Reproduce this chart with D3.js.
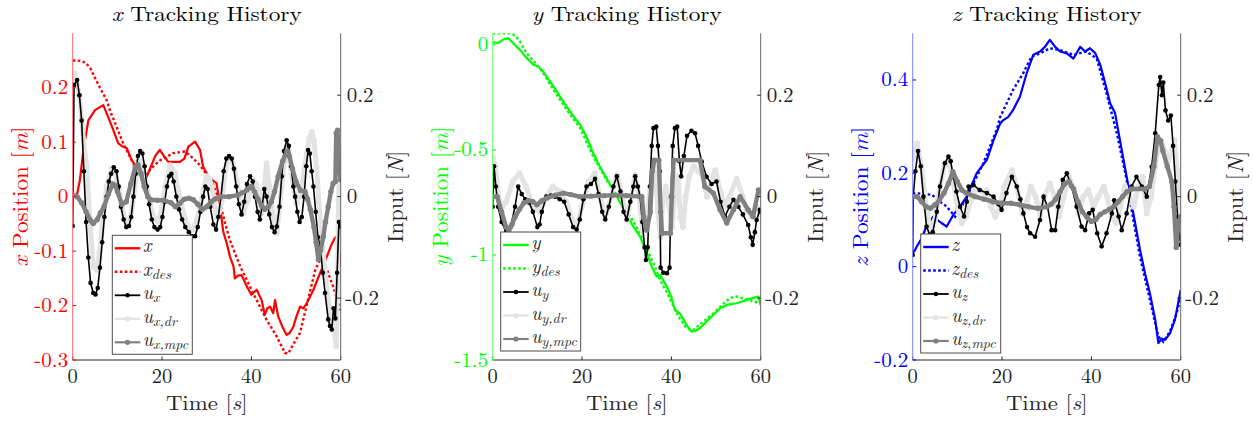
<!DOCTYPE html>
<html><head><meta charset="utf-8">
<script src="https://cdn.jsdelivr.net/npm/d3@7"></script>
<style>body{margin:0;background:#fff}svg{display:block}</style>
</head><body><svg id="c" width="1253" height="423"></svg>
<script>
// ---------- DATA ----------
const timeTicks = [0, 20, 40, 60];
const inputTicks = [-0.2, 0, 0.2];
const xPosTicks = [-0.3, -0.2, -0.1, 0, 0.1, 0.2];
const yPosTicks = [-1.5, -1, -0.5, 0];
const zPosTicks = [-0.2, 0, 0.2, 0.4];

// panel x
const x_pos = [[0,0],[1,0.005],[1.6,0.03],[2.4,0.086],[3.5,0.14],[5,0.159],[6.85,0.168],[8,0.145],[9.1,0.122],[10.2,0.098],[11.2,0.092],[12.1,0.089],[13.2,0.067],[14.2,0.055],[15.1,0.046],[16.6,0.037],[17.5,0.055],[18.5,0.075],[19.5,0.086],[20.4,0.075],[21.4,0.064],[22.7,0.064],[24,0.064],[25,0.07],[25.9,0.092],[27.4,0.101],[28.5,0.086],[29.2,0.055],[30.4,0.037],[31.3,0.03],[32.2,0.025],[33,-0.018],[33.7,-0.064],[34.5,-0.086],[35.2,-0.11],[36,-0.128],[36.3,-0.15],[37,-0.145],[37.8,-0.144],[39,-0.165],[40,-0.18],[41.2,-0.171],[42.3,-0.19],[43,-0.217],[43.6,-0.205],[44.2,-0.202],[44.9,-0.214],[45.3,-0.19],[46,-0.22],[47,-0.24],[47.9,-0.254],[48.6,-0.25],[49.4,-0.239],[50.1,-0.22],[50.9,-0.202],[51.6,-0.205],[52.4,-0.196],[53.9,-0.171],[55.4,-0.14],[56.9,-0.11],[58.1,-0.085],[58.7,-0.076],[59.1,-0.073],[59.5,-0.085],[60,-0.128]];
const x_des = [[0,0.25],[1,0.25],[2,0.249],[3,0.245],[4,0.235],[5,0.218],[6.1,0.2],[7.6,0.177],[8.5,0.155],[9.5,0.135],[11.3,0.098],[13.2,0.067],[15.1,0.037],[16.6,0.043],[18,0.055],[19.6,0.067],[21,0.073],[22.5,0.08],[25.1,0.083],[26.6,0.073],[28,0.062],[29.3,0.049],[31.5,0.021],[33,-0.012],[34,-0.045],[35.2,-0.08],[37.5,-0.128],[40.4,-0.177],[43.4,-0.226],[45.7,-0.257],[47.5,-0.287],[48.3,-0.288],[48.7,-0.281],[50.9,-0.25],[53.1,-0.175],[54.3,-0.135],[55.6,-0.112],[56.5,-0.125],[58.3,-0.165],[60,-0.21]];
const u_x = [[0,-0.058],[0.3,0.22],[1,0.23],[1.5,0.2],[2,0.15],[2.5,0.05],[3,-0.05],[3.5,-0.12],[4,-0.17],[4.6,-0.19],[5.1,-0.193],[5.6,-0.18],[6.1,-0.14],[6.6,-0.09],[7.1,-0.04],[7.6,0.0],[8.1,0.03],[8.6,0.045],[9.2,0.058],[9.8,0.05],[10.3,0.02],[10.8,-0.02],[11.4,-0.045],[12,-0.06],[12.6,-0.058],[13.1,-0.04],[13.6,0.0],[14.1,0.045],[14.6,0.08],[15.1,0.09],[15.6,0.085],[16.1,0.06],[16.6,0.02],[17.1,-0.015],[17.7,-0.045],[18.3,-0.06],[19,-0.065],[19.6,-0.06],[20.1,-0.04],[20.6,-0.01],[21.1,0.02],[21.6,0.04],[22.1,0.045],[22.6,0.03],[23.2,0.0],[23.8,-0.025],[24.5,-0.045],[25.2,-0.06],[26,-0.07],[26.8,-0.078],[27.4,-0.078],[28,-0.06],[28.6,-0.03],[29.2,0.0],[29.7,0.02],[30.2,0.015],[30.8,-0.02],[31.5,-0.055],[32.1,-0.065],[32.6,-0.04],[33.2,0.0],[33.8,0.05],[34.4,0.075],[35,0.08],[35.6,0.075],[36.1,0.055],[36.6,0.02],[37.2,-0.015],[37.8,-0.035],[38.4,-0.01],[39,0.025],[39.7,0.04],[40.3,0.03],[40.8,0.0],[41.4,-0.03],[41.9,-0.045],[42.4,-0.02],[42.9,0.015],[43.4,0.0],[44,-0.035],[44.6,-0.06],[45.2,-0.07],[45.7,-0.059],[46.3,-0.02],[46.8,0.04],[47.3,0.09],[47.9,0.111],[48.4,0.1],[48.9,0.06],[49.4,0.02],[49.8,0.0],[50.3,-0.03],[50.8,-0.05],[51.3,-0.04],[51.8,0.0],[52.3,0.06],[52.7,0.092],[53.1,0.085],[53.5,0.05],[53.9,0.02],[54.4,-0.03],[54.9,-0.08],[55.4,-0.098],[56,-0.15],[56.5,-0.19],[57.2,-0.242],[57.6,-0.255],[58,-0.262],[58.4,-0.22],[58.8,-0.24],[59.2,-0.15],[59.6,-0.05],[60,-0.059]];
const u_x_dr = [[0,0.23],[0.4,0.243],[0.8,0.23],[1.5,0.2],[2.2,0.13],[3.1,0.06],[3.8,-0.04],[4.6,-0.138],[5.4,-0.144],[6,-0.11],[6.5,-0.07],[7.6,0.02],[8.7,0.056],[9.6,0.046],[10.3,0.015],[11,-0.02],[12.1,-0.059],[13.2,-0.03],[14.3,0.046],[15,0.07],[15.8,0.05],[16.6,0.02],[17.4,-0.015],[18.1,-0.04],[19.2,-0.05],[20,-0.02],[20.7,0.02],[21.8,0.062],[22.9,0.046],[23.7,0.01],[24.4,-0.02],[25.2,-0.045],[25.9,-0.059],[27,-0.065],[27.8,-0.045],[28.5,-0.02],[29.3,0.015],[30,0.04],[30.6,0.035],[31.1,0.02],[31.7,-0.01],[32.2,-0.04],[32.8,-0.03],[33.4,-0.006],[34,0.04],[34.5,0.066],[35.6,0.072],[36.2,0.055],[36.7,0.033],[37.5,0.0],[38.2,-0.033],[39.3,-0.006],[40.4,0.033],[41,0.025],[41.6,0.013],[42.3,-0.033],[42.9,0.02],[43.4,0.066],[44,0.02],[44.5,-0.02],[45.1,-0.05],[45.7,-0.072],[46.3,-0.02],[46.8,0.02],[47.4,0.07],[47.9,0.098],[48.5,0.075],[49,0.046],[49.6,0.01],[50.1,-0.013],[50.7,0.0],[51.3,0.02],[51.9,0.055],[52.4,0.085],[53,0.115],[53.5,0.128],[54,0.11],[54.6,0.059],[55.1,-0.01],[55.7,-0.072],[56.4,-0.14],[57.2,-0.203],[57.8,-0.235],[58.4,-0.256],[59,-0.295],[59.3,-0.15],[59.5,-0.006],[60,0.085]];
const u_x_mpc = [[0,0.003],[1,0.0],[2,-0.012],[3,-0.03],[4,-0.047],[4.6,-0.053],[5.5,-0.045],[6.2,-0.032],[7,-0.02],[8,0.005],[9,0.025],[9.5,0.022],[10,0.01],[11,-0.015],[12,-0.01],[13,0.025],[14,0.058],[14.6,0.063],[15.3,0.045],[16,0.02],[16.8,0.0],[17.5,-0.006],[19,-0.007],[20.5,-0.007],[22,-0.012],[23,-0.02],[24,-0.013],[25,-0.005],[26,-0.003],[27,-0.006],[28,-0.015],[29,-0.025],[30,-0.02],[31,-0.01],[32,-0.004],[33,0.0],[35,0.0],[37,0.003],[38,0.008],[39,0.013],[40,0.02],[40.7,0.01],[41.5,-0.005],[42.3,-0.018],[43,-0.025],[43.8,-0.02],[44.5,-0.01],[45.2,0.01],[46,0.04],[47,0.07],[48,0.09],[48.5,0.08],[49.2,0.055],[50,0.03],[51,0.012],[52,0.01],[52.6,-0.005],[53.2,-0.025],[54,-0.06],[54.5,-0.09],[55,-0.124],[55.5,-0.105],[56.1,-0.079],[56.6,-0.05],[57.2,-0.02],[57.8,0.01],[58.3,0.026],[58.8,0.03],[59,0.125],[59.3,0.131],[59.6,0.06],[60,0.033]];

// panel y
const y_pos = [[0,0.011],[1.5,0.011],[2.2,0.024],[3.5,0.032],[4.6,0.008],[6.1,-0.024],[7.6,-0.063],[9.1,-0.095],[10.2,-0.103],[11.3,-0.127],[13.6,-0.198],[15.8,-0.27],[18.1,-0.341],[19.6,-0.381],[21,-0.437],[22.5,-0.516],[24,-0.579],[25.9,-0.651],[27.8,-0.722],[30,-0.81],[31.5,-0.865],[33,-0.913],[34.5,-0.992],[35.6,-1.056],[36.7,-1.103],[37.5,-1.095],[39,-1.151],[40,-1.2],[40.8,-1.262],[41.9,-1.278],[43.4,-1.333],[44.5,-1.365],[45.5,-1.36],[46.4,-1.349],[47.9,-1.317],[49.4,-1.286],[50.9,-1.254],[52.4,-1.238],[54.6,-1.23],[56.9,-1.214],[58.7,-1.202],[59.5,-1.198],[60,-1.24]];
const y_des = [[0,0.055],[2,0.055],[4,0.055],[5,0.045],[6.1,0.016],[7.6,-0.04],[9.9,-0.095],[11.5,-0.14],[13.6,-0.214],[16.6,-0.31],[19.6,-0.397],[22.5,-0.532],[25.5,-0.643],[28.5,-0.738],[32.2,-0.865],[34,-0.95],[36,-1.04],[37.5,-1.119],[39.5,-1.2],[41.5,-1.29],[43.4,-1.35],[44.9,-1.357],[47,-1.32],[49.4,-1.278],[51.5,-1.235],[53.1,-1.205],[54.5,-1.198],[56.1,-1.206],[58.4,-1.222],[60,-1.23]];
const u_y = [[0,-0.02],[0.3,0.06],[0.7,0.02],[1.2,-0.02],[2,-0.05],[3,-0.07],[4,-0.06],[5,-0.02],[5.7,0.02],[6.5,0.005],[7.3,-0.005],[8.2,-0.012],[9,-0.03],[10,-0.06],[10.5,-0.055],[11,-0.03],[12,0.0],[13,0.002],[14,0.0],[15,-0.005],[16,-0.01],[17,-0.035],[18,-0.06],[18.8,-0.065],[19.5,-0.045],[20.3,-0.005],[21,0.02],[22,0.025],[22.9,0.035],[23.7,0.005],[24.5,-0.03],[25.2,-0.045],[26,-0.02],[27,0.02],[27.8,0.04],[28.6,0.01],[29.3,-0.03],[30,-0.045],[30.8,-0.01],[31.5,0.02],[31.9,0.04],[32.5,0.02],[33,0.0],[33.5,-0.05],[34,-0.1],[34.3,-0.125],[34.7,-0.1],[35.2,0.02],[35.6,0.1],[36,0.135],[36.6,0.138],[37,0.1],[37.4,0.05],[37.6,-0.14],[38.2,-0.15],[39,-0.151],[39.6,-0.14],[39.9,0.0],[40.3,0.1],[40.8,0.135],[41.3,0.138],[41.8,0.07],[42.2,0.04],[42.8,0.08],[43.5,0.12],[44.5,0.13],[45.3,0.125],[46,0.1],[46.8,0.069],[47.9,0.039],[49,0.025],[50.1,0.03],[51,-0.01],[52,-0.039],[53,-0.02],[53.9,-0.006],[55,-0.02],[56,-0.035],[57.2,-0.056],[57.8,-0.08],[58.2,-0.095],[58.7,-0.07],[59.1,-0.046],[59.8,-0.026],[60,-0.03]];
const u_y_dr = [[0,0.079],[0.6,0.06],[1.3,0.0],[2.2,-0.02],[3,-0.01],[4.5,0.03],[6,0.046],[7.5,0.02],[9,-0.02],[10.5,-0.03],[12,0.0],[13.5,0.02],[15,0.01],[16.5,-0.01],[18,-0.05],[18.8,-0.06],[20,-0.02],[21.5,0.03],[22.9,0.046],[24,0.0],[25.2,-0.04],[26.5,0.0],[27.8,0.043],[29,0.0],[30,-0.046],[31,0.0],[31.9,0.043],[32.8,0.0],[33.5,-0.066],[34.5,-0.04],[35.3,0.02],[36,0.06],[36.5,0.03],[37,-0.03],[37.5,-0.08],[38,-0.02],[38.8,0.02],[39.5,-0.02],[40.2,-0.06],[40.8,0.02],[41.5,0.04],[42,-0.04],[42.6,-0.06],[43.2,0.0],[44,0.04],[45,0.06],[46,0.05],[47,0.04],[48,0.0],[49,0.03],[49.8,0.052],[51,0.01],[52,-0.02],[53,0.0],[54.6,0.035],[56,0.0],[57,-0.03],[58,-0.04],[59,-0.02],[60,-0.035]];
const u_y_mpc = [[0,0.0],[1,0.0],[2,-0.03],[3,-0.06],[3.6,-0.066],[4.3,-0.055],[5,-0.04],[6,-0.025],[7,-0.012],[8,-0.008],[9,-0.01],[9.9,-0.016],[11,-0.008],[12.1,-0.003],[14,0.003],[15.8,0.007],[17.5,0.004],[19.5,0.0],[22,0.001],[25,0.002],[27,0.003],[30,0.002],[33.4,0.0],[33.8,-0.04],[34.5,-0.066],[35.3,-0.03],[35.7,0.05],[36.2,0.072],[37.2,0.072],[37.6,-0.03],[37.9,-0.072],[39.8,-0.072],[40.1,0.0],[40.5,0.072],[46.4,0.072],[47.5,0.02],[49.4,0.007],[50.9,-0.026],[52.4,-0.052],[53.9,-0.026],[55.4,0.0],[57.2,-0.026],[58.3,-0.039],[59.5,0.013],[60,0.01]];

// panel z
const z_pos = [[0,0.029],[0.5,0.035],[0.9,0.043],[2,0.06],[3,0.085],[4.6,0.107],[6.5,0.093],[7.6,0.086],[9.1,0.111],[10.6,0.129],[12.1,0.15],[14.3,0.2],[16.6,0.229],[18.1,0.271],[19.6,0.307],[20.3,0.314],[21.4,0.321],[22.5,0.336],[24,0.364],[25.5,0.414],[27,0.454],[28.5,0.461],[29.6,0.471],[30.7,0.486],[31.9,0.471],[33,0.461],[34.5,0.457],[36,0.446],[37.5,0.471],[38.6,0.461],[39.7,0.468],[40.9,0.457],[42,0.432],[43.1,0.393],[44.2,0.35],[45.3,0.329],[46.4,0.271],[47.9,0.193],[49.4,0.114],[50.9,0.036],[52,-0.014],[53.1,-0.057],[54.3,-0.114],[55,-0.164],[55.7,-0.154],[56.5,-0.157],[57.6,-0.143],[58.7,-0.114],[60,-0.05]];
const z_des = [[0,0.157],[1.2,0.157],[4.3,0.154],[6,0.14],[7.6,0.129],[9.5,0.107],[10.5,0.12],[12.1,0.15],[15.8,0.221],[18.8,0.293],[19.6,0.321],[22.5,0.379],[24.7,0.414],[26.6,0.45],[28.5,0.457],[30.7,0.468],[33,0.464],[36,0.454],[38.9,0.461],[41.2,0.446],[43.4,0.371],[45.7,0.286],[47.9,0.186],[49.4,0.1],[50.9,0.021],[53.1,-0.071],[55,-0.15],[56.1,-0.161],[57.6,-0.139],[59.1,-0.1],[60,-0.064]];
const u_z = [[0,-0.115],[0.1,0.0],[0.6,0.05],[1.2,0.09],[1.8,0.06],[2.4,0.0],[3.1,-0.059],[3.8,-0.075],[4.5,-0.07],[5.4,-0.03],[6.1,0.02],[7.2,0.066],[8,0.079],[8.5,0.07],[9.1,0.039],[9.8,0.01],[10.6,-0.02],[11.5,-0.039],[12.1,-0.01],[12.5,0.02],[13.6,0.023],[15,0.013],[16.6,0.007],[18.1,0.0],[19.2,-0.015],[19.9,-0.026],[21,0.007],[22.2,0.039],[23.3,0.02],[24.1,-0.005],[24.8,-0.033],[25.6,-0.06],[26.3,-0.072],[27.4,-0.079],[28.5,-0.046],[29.3,0.0],[30.2,-0.02],[31.1,-0.066],[31.9,-0.066],[32.6,-0.02],[33.6,0.033],[34.5,0.046],[35.6,0.02],[36.7,-0.02],[37.8,-0.059],[38.6,-0.066],[39.5,-0.033],[40.3,-0.026],[41.3,-0.072],[42.3,-0.098],[43.4,-0.072],[44.6,-0.033],[45.1,-0.007],[46.1,-0.039],[46.8,-0.066],[47.9,-0.033],[49,0.02],[50.1,0.039],[51.3,0.02],[52.4,0.0],[53.5,0.059],[54.3,0.125],[55.1,0.22],[55.4,0.236],[55.8,0.2],[56.1,0.225],[56.6,0.17],[57.2,0.15],[57.8,0.16],[58.3,0.1],[58.8,0.03],[59.3,-0.04],[60,-0.095]];
const u_z_dr = [[0,0.075],[1,0.105],[2,0.059],[3,-0.02],[4,-0.066],[5,-0.046],[6,0.013],[7,0.059],[8,0.072],[9,0.033],[10,-0.02],[11,-0.052],[12,-0.039],[13,-0.007],[14,0.013],[15,0.013],[16,0.007],[16.6,0.013],[17.5,-0.02],[18.5,-0.04],[19.5,-0.02],[20.5,0.02],[22.2,0.052],[23.3,0.02],[24.5,-0.033],[25.5,-0.01],[26.5,0.02],[27.5,0.0],[28.5,-0.033],[29.5,0.0],[30.7,0.026],[31.8,0.0],[32.8,-0.039],[33.8,0.0],[35,0.039],[36.1,0.015],[37.2,-0.033],[38.2,0.0],[39.3,0.013],[40.5,-0.02],[41.5,0.0],[42.8,0.02],[43.5,0.0],[44.5,-0.04],[45.5,-0.052],[46.5,-0.02],[47.5,0.02],[48.5,0.0],[49.5,-0.02],[50.5,0.02],[51.5,0.039],[52.4,-0.033],[53.4,0.0],[54.3,0.06],[55,0.1],[55.6,0.111],[56.4,0.09],[57.2,0.07],[58,0.09],[58.6,0.111],[59.2,0.05],[60,-0.033]];
const u_z_mpc = [[0,0.0],[1,0.0],[2,-0.01],[3,-0.02],[4,-0.023],[5,-0.016],[6,-0.007],[7,0.007],[8,0.026],[9,0.049],[10,0.03],[11,0.013],[12,0.007],[14,0.0],[16,-0.005],[18,-0.01],[20,-0.013],[22,-0.013],[24,-0.016],[26,-0.02],[28,-0.023],[30,-0.02],[31,-0.015],[32,-0.005],[33,0.01],[34,0.025],[35,0.03],[36,0.015],[37,-0.01],[38,-0.03],[39,-0.04],[40,-0.049],[41,-0.045],[42,-0.035],[43,-0.03],[44,-0.025],[45,-0.02],[46,-0.01],[47,0.0],[48,0.01],[49,0.015],[52,0.015],[53,0.02],[54,0.06],[54.8,0.118],[55.5,0.11],[56,0.09],[57,0.06],[58,0.03],[58.5,-0.02],[59,-0.1],[59.5,-0.05],[60,-0.039]];

// ---------- FONT PICK ----------
function pickFont(cands) {
  const c = document.createElement("canvas").getContext("2d");
  const s = "Tracking History 0.123 Position";
  const base = {};
  ["monospace", "sans-serif"].forEach(b => { c.font = "40px " + b; base[b] = c.measureText(s).width; });
  for (const f of cands) {
    for (const b of ["monospace", "sans-serif"]) {
      c.font = `40px "${f}", ${b}`;
      if (Math.abs(c.measureText(s).width - base[b]) > 0.5) return `"${f}"`;
    }
  }
  return "serif";
}
const FONT = pickFont(["Latin Modern Roman","CMU Serif","Liberation Serif","DejaVu Serif","Tinos","Noto Serif","Times New Roman","Nimbus Roman","Nimbus Roman No9 L","FreeSerif","STIXGeneral","Georgia","C059","P052"]);

// ---------- DRAW ----------
const svg = d3.select("#c");
const W = 268, PL = 72.7, TOP = 33.3, BOT = 360;
const panels = [
  {ox:0,   name:"x", color:"#ff0000", axisCol:"#ff6666", dom:[-0.3,0.3],   ticks:xPosTicks, pos:x_pos, des:x_des, u:u_x, dr:u_x_dr, mpc:u_x_mpc, legX:39.6, legY:235.3},
  {ox:420, name:"y", color:"#00ff00", axisCol:"#66ff66", dom:[-1.5,0.055], ticks:yPosTicks, pos:y_pos, des:y_des, u:u_y, dr:u_y_dr, mpc:u_y_mpc, legX:8, legY:232},
  {ox:840, name:"z", color:"#0000ff", axisCol:"#8080ff", dom:[-0.2,0.5],   ticks:zPosTicks, pos:z_pos, des:z_des, u:u_z, dr:u_z_dr, mpc:u_z_mpc, legX:8, legY:234}
];
const DARK = "#262626";

function txt(sel) { return sel.append("text").attr("font-family", FONT); }
function fit(sel, len) { return sel.attr("textLength", len).attr("lengthAdjust", "spacingAndGlyphs"); }

panels.forEach((p, i) => {
  const x0 = p.ox + PL, x1 = x0 + W;
  const xs = d3.scaleLinear().domain([0,60]).range([x0, x1]);
  const yl = d3.scaleLinear().domain(p.dom).range([BOT, TOP]);
  const yr = d3.scaleLinear().domain([-0.322,0.322]).range([BOT, TOP]);
  const g = svg.append("g");
  const clipId = "clip"+i;
  svg.append("clipPath").attr("id", clipId).append("rect").attr("x", x0).attr("y", TOP).attr("width", W).attr("height", BOT-TOP);
  const plot = g.append("g").attr("clip-path", `url(#${clipId})`);

  const lineL = d3.line().x(d=>xs(d[0])).y(d=>yl(d[1]));
  const lineR = d3.line().x(d=>xs(d[0])).y(d=>yr(d[1]));

  plot.append("path").attr("d", lineL(p.des)).attr("fill","none").attr("stroke",p.color).attr("stroke-width",2.4).attr("stroke-dasharray","2.6,2.4");
  plot.append("path").attr("d", lineL(p.pos)).attr("fill","none").attr("stroke",p.color).attr("stroke-width",2.2).attr("stroke-linejoin","round");

  function series(data, col, lw, r) {
    plot.append("path").attr("d", lineR(data)).attr("fill","none").attr("stroke",col).attr("stroke-width",lw).attr("stroke-linejoin","round").attr("stroke-linecap","round");
    plot.append("g").selectAll("circle").data(data).join("circle")
      .attr("cx", d=>xs(d[0])).attr("cy", d=>yr(d[1])).attr("r", r).attr("fill", col);
  }
  series(p.dr, "#e3e3e3", 5, 3);
  series(p.u, "#000000", 1.6, 2.3);
  series(p.mpc, "#808080", 4.4, 2.7);

  // axes
  const TL = 3.5;
  g.append("line").attr("x1",x0).attr("x2",x1).attr("y1",BOT).attr("y2",BOT).attr("stroke",DARK).attr("stroke-width",1);
  timeTicks.forEach(t => {
    g.append("line").attr("x1",xs(t)).attr("x2",xs(t)).attr("y1",BOT).attr("y2",BOT-TL).attr("stroke",DARK);
    txt(g).attr("x",xs(t)).attr("y",382.5).attr("text-anchor","middle").attr("font-size",20.5).attr("fill",DARK).text(t);
  });
  g.append("line").attr("x1",x0).attr("x2",x0).attr("y1",TOP).attr("y2",BOT).attr("stroke",p.axisCol).attr("stroke-width",1);
  p.ticks.forEach(v => {
    g.append("line").attr("x1",x0).attr("x2",x0+TL).attr("y1",yl(v)).attr("y2",yl(v)).attr("stroke",p.color);
    txt(g).attr("x",x0-4.5).attr("y",yl(v)+6.5).attr("text-anchor","end").attr("font-size",21).attr("fill",p.color).text(v);
  });
  g.append("line").attr("x1",x1).attr("x2",x1).attr("y1",TOP).attr("y2",BOT).attr("stroke","#666").attr("stroke-width",1);
  inputTicks.forEach(v => {
    g.append("line").attr("x1",x1).attr("x2",x1-TL).attr("y1",yr(v)).attr("y2",yr(v)).attr("stroke",DARK);
    txt(g).attr("x",x1+(v<0?4.5:6)).attr("y",yr(v)+6.5).attr("text-anchor","start").attr("font-size",21).attr("fill",DARK).text(v);
  });

  // labels
  const cx = (x0+x1)/2;
  const tt = fit(txt(g).attr("x",cx-95).attr("y",21).attr("font-size",20.5).attr("fill","#000"), 190);
  tt.append("tspan").attr("font-style","italic").text(p.name);
  tt.append("tspan").text(" Tracking History");
  const xl = fit(txt(g).attr("x",cx-40.8).attr("y",409.5).attr("font-size",21).attr("fill",DARK), 81.6);
  xl.append("tspan").text("Time [");
  xl.append("tspan").attr("font-style","italic").text("s");
  xl.append("tspan").text("]");
  const yL = fit(txt(g).attr("transform",`translate(${p.ox+28},${(TOP+BOT)/2+70}) rotate(-90)`).attr("font-size",22).attr("fill",p.color), 140);
  yL.append("tspan").attr("font-style","italic").text(p.name);
  yL.append("tspan").text(" Position [");
  yL.append("tspan").attr("font-style","italic").text("m");
  yL.append("tspan").text("]");
  const yR = fit(txt(g).attr("transform",`translate(${x1+62},${(TOP+BOT)/2+46}) rotate(-90)`).attr("font-size",22).attr("fill",DARK), 92);
  yR.append("tspan").text("Input [");
  yR.append("tspan").attr("font-style","italic").text("N");
  yR.append("tspan").text("]");

  // legend
  const lx = x0 + p.legX, ly = p.legY, lw = 80, lh = 119;
  const lg = g.append("g");
  lg.append("rect").attr("x",lx).attr("y",ly).attr("width",lw).attr("height",lh).attr("fill","#fff").attr("stroke","#4d4d4d").attr("stroke-width",1);
  const entries = [
    {col:p.color, lw:2.4, dash:null, r:0, main:p.name, sub:""},
    {col:p.color, lw:2.4, dash:"2.6,2.4", r:0, main:p.name, sub:"des"},
    {col:"#000000", lw:1.8, dash:null, r:2.2, main:"u", sub:p.name},
    {col:"#e3e3e3", lw:2.2, dash:null, r:2.6, main:"u", sub:p.name+",dr"},
    {col:"#808080", lw:2.2, dash:null, r:2.6, main:"u", sub:p.name+",mpc"}
  ];
  entries.forEach((e, k) => {
    const yy = ly + 13 + k*23.5;
    lg.append("line").attr("x1",lx+2.5).attr("x2",lx+28).attr("y1",yy).attr("y2",yy).attr("stroke",e.col).attr("stroke-width",e.lw).attr("stroke-dasharray",e.dash);
    if (e.r) lg.append("circle").attr("cx",lx+15.2).attr("cy",yy).attr("r",e.r).attr("fill",e.col);
    const tx = txt(lg).attr("x",lx+30.5).attr("y",yy+4).attr("font-size",19).attr("fill",DARK).attr("font-style","italic");
    tx.append("tspan").text(e.main);
    if (e.sub) tx.append("tspan").attr("font-size",14).attr("dy",3).text(e.sub);
  });
});
</script></body></html>
